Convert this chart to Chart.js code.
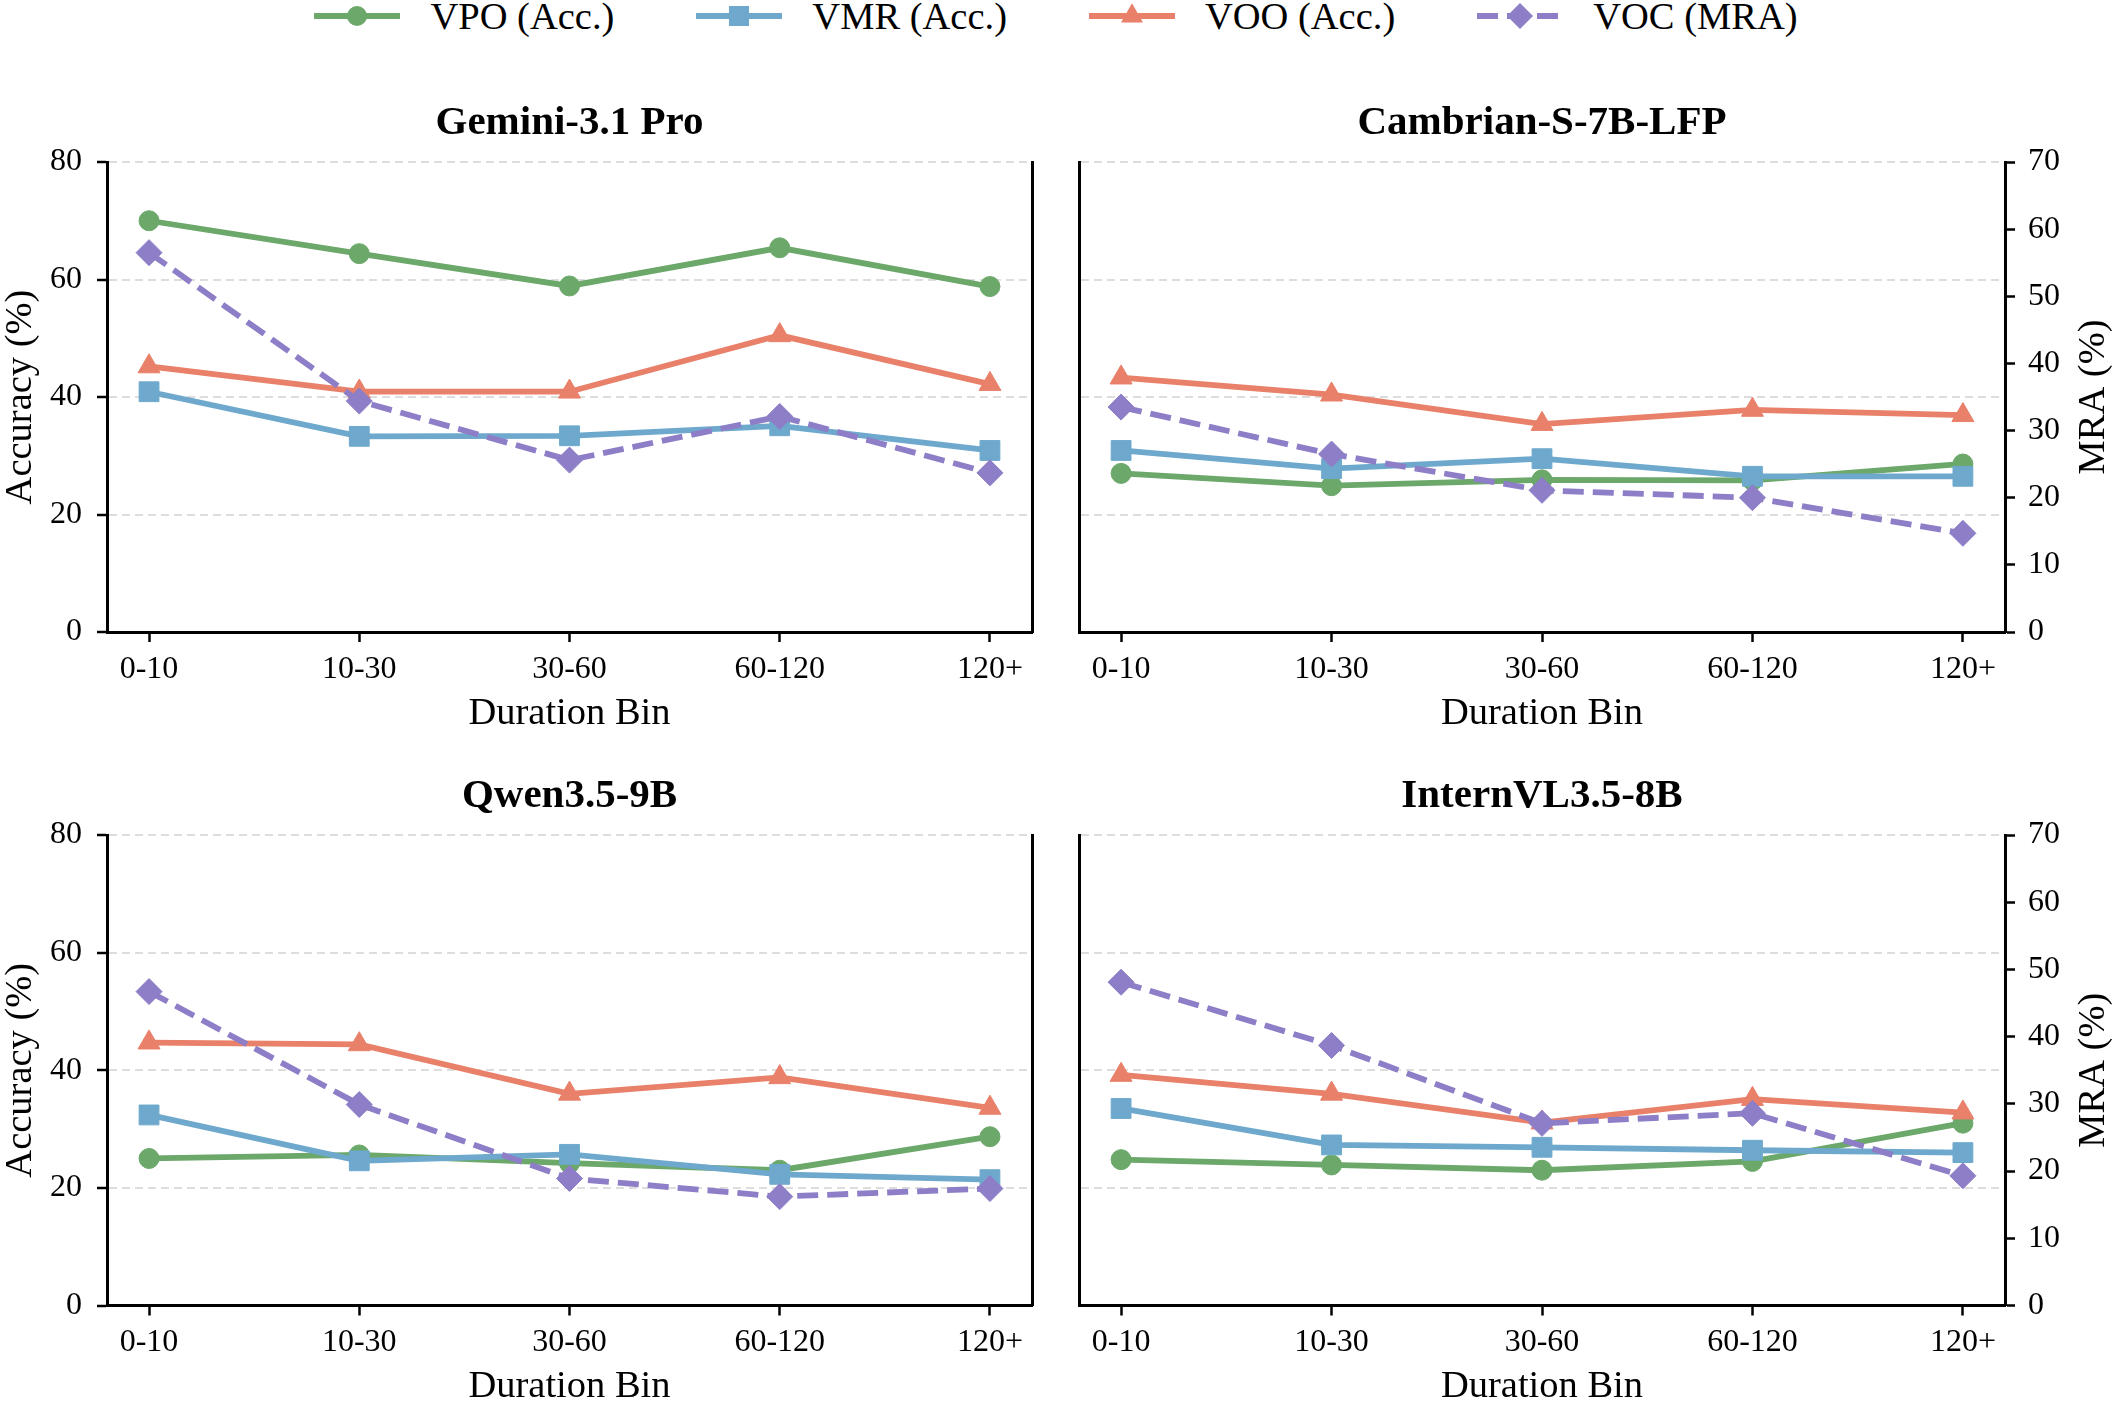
<!DOCTYPE html>
<html>
<head>
<meta charset="utf-8">
<script src="https://cdn.jsdelivr.net/npm/chart.js@4.4.1/dist/chart.umd.min.js"></script>
<style>
  html, body { margin: 0; padding: 0; background: #fff; overflow: hidden; }
  body { width: 2112px; height: 1402px; position: relative; font-family: 'Liberation Serif', 'Times New Roman', serif; }
  canvas { position: absolute; }
  #legend { position: absolute; left: 0; top: -1px; width: 2112px; height: 34px; display: flex;
            justify-content: center; align-items: center; gap: 82px; font-size: 38.5px; line-height: 1; color: #000; }
  .item { display: flex; align-items: center; gap: 30px; white-space: nowrap; }
</style>
</head>
<body>
<div id="legend"></div>
<canvas id="p0" width="1056" height="740" style="left:0;top:0"></canvas>
<canvas id="p1" width="1056" height="740" style="left:1056px;top:0"></canvas>
<canvas id="p2" width="1056" height="680" style="left:0;top:740px"></canvas>
<canvas id="p3" width="1056" height="680" style="left:1056px;top:740px"></canvas>
<script>
// data
var durationBins = ['0-10', '10-30', '30-60', '60-120', '120+'];
var modelNames = ['Gemini-3.1 Pro', 'Cambrian-S-7B-LFP', 'Qwen3.5-9B', 'InternVL3.5-8B'];

// accuracy (%), one row per model
var vpoAcc = [
  [70.0, 64.4, 58.9, 65.4, 58.8],
  [27.0, 24.9, 25.9, 25.8, 28.6],
  [25.0, 25.6, 24.2, 23.0, 28.7],
  [24.8, 23.9, 23.0, 24.5, 31.0]
];
var vmrAcc = [
  [40.9, 33.3, 33.4, 35.1, 30.9],
  [30.9, 27.8, 29.5, 26.5, 26.5],
  [32.4, 24.6, 25.7, 22.3, 21.4],
  [33.5, 27.3, 26.9, 26.4, 26.0]
];
var vooAcc = [
  [45.2, 40.9, 40.9, 50.5, 42.2],
  [43.3, 40.4, 35.4, 37.8, 36.9],
  [44.7, 44.4, 36.0, 38.8, 33.6],
  [39.2, 36.0, 31.1, 35.1, 32.8]
];
// MRA (%) on the right axis
var vocMra = [
  [56.5, 34.4, 25.6, 32.1, 23.7],
  [33.5, 26.5, 21.1, 20.0, 14.7],
  [46.7, 29.9, 18.9, 16.2, 17.4],
  [48.1, 38.7, 27.1, 28.6, 19.3]
];
var accTicks = [0, 20, 40, 60, 80];
var mraTicks = [0, 10, 20, 30, 40, 50, 60, 70];

var green = '#6BA86A', blue = '#6EA9CD', orange = '#E8806A', purple = '#8D7EC7';
var serif = "'Liberation Serif', 'Times New Roman', serif";

Chart.defaults.font.family = serif;
Chart.defaults.color = '#000';

// legend (line + marker, like the matplotlib one)
var legendItems = [
  ['VPO (Acc.)', green, '<circle cx="43" cy="17" r="10"/>', ''],
  ['VMR (Acc.)', blue, '<rect x="33" y="7" width="20" height="20"/>', ''],
  ['VOO (Acc.)', orange, '<polygon points="43,4.3 54,23.4 32,23.4"/>', ''],
  ['VOC (MRA)', purple, '<polygon points="43,4 56,17 43,30 30,17"/>', '21 9']
];
var lg = document.getElementById('legend');
legendItems.forEach(function (it) {
  var d = document.createElement('div');
  d.className = 'item';
  d.innerHTML = '<svg width="86" height="34"><line x1="0" y1="17" x2="86" y2="17" stroke="' + it[1] +
    '" stroke-width="5.8"' + (it[3] ? ' stroke-dasharray="' + it[3] + '"' : '') + '/>' +
    '<g fill="' + it[1] + '">' + it[2] + '</g></svg><span>' + it[0] + '</span>';
  lg.appendChild(d);
});

function pts(values) {
  return values.map(function (v, i) { return { x: i, y: v }; });
}

function series(label, values, color, style, radius, axis, dash, order) {
  return {
    label: label,
    data: pts(values),
    yAxisID: axis,
    borderColor: color,
    backgroundColor: color,
    pointBackgroundColor: color,
    pointBorderColor: color,
    pointBorderWidth: 1,
    pointStyle: style,
    pointRadius: radius,
    borderWidth: 5.8,
    borderDash: dash,
    tension: 0,
    fill: false,
    order: order
  };
}

function makePanel(k) {
  var isRight = k % 2 === 1;
  var isBottom = k >= 2;
  var canvasH = isBottom ? 680 : 740;
  var plotTop = isBottom ? 95 : 162;
  var plotBottom = isBottom ? 565.5 : 632;

  var mraTitle = {
    id: 'mraTitle',
    afterDraw: function (chart) {
      if (!isRight) return;
      var a = chart.chartArea, ctx = chart.ctx;
      ctx.save();
      ctx.translate(1038, (a.top + a.bottom) / 2);
      ctx.rotate(-Math.PI / 2);
      ctx.textAlign = 'center';
      ctx.textBaseline = 'middle';
      ctx.fillStyle = '#000';
      ctx.font = '38.5px ' + serif;
      ctx.fillText('MRA (%)', 0, 0);
      ctx.restore();
    }
  };

  new Chart(document.getElementById('p' + k), {
    type: 'line',
    data: {
      datasets: [
        series('VPO (Acc.)', vpoAcc[k], green, 'circle', 10, 'y', [], 4),
        series('VMR (Acc.)', vmrAcc[k], blue, 'rect', 14, 'y', [], 3),
        series('VOO (Acc.)', vooAcc[k], orange, 'triangle', 12.7, 'y', [], 2),
        series('VOC (MRA)', vocMra[k], purple, 'rectRot', 13, 'y2', [21, 9], 1)
      ]
    },
    options: {
      responsive: false,
      animation: false,
      devicePixelRatio: 1,
      events: [],
      layout: { padding: 0 },
      plugins: {
        legend: { display: false },
        tooltip: { enabled: false },
        title: {
          display: true,
          text: modelNames[k],
          fullSize: false,
          color: '#000',
          font: { family: serif, size: 41, weight: 'bold', lineHeight: 1.2 },
          padding: { top: plotTop - 63.6, bottom: 14.4 }
        }
      },
      scales: {
        x: {
          type: 'linear',
          min: -0.2,
          max: 4.2,
          afterBuildTicks: function (axis) {
            axis.ticks = durationBins.map(function (_, i) { return { value: i }; });
          },
          afterFit: function (axis) { axis.height = canvasH - plotBottom; },
          ticks: {
            autoSkip: false,
            maxRotation: 0,
            padding: 8,
            color: '#000',
            font: { size: 32 },
            callback: function (v) { return durationBins[v]; }
          },
          grid: { drawOnChartArea: false, drawTicks: true, tickLength: 10, tickColor: '#000', tickWidth: 2.5 },
          border: { color: '#000', width: 3 },
          title: {
            display: true,
            text: 'Duration Bin',
            color: '#000',
            font: { size: 38.5, lineHeight: 1.1 },
            padding: { top: 0, bottom: isBottom ? 11.5 : 5 }
          }
        },
        y: {
          position: 'left',
          min: 0,
          max: 80,
          afterBuildTicks: function (axis) {
            axis.ticks = accTicks.map(function (v) { return { value: v }; });
          },
          afterFit: function (axis) { axis.width = isRight ? 23 : 107; },
          ticks: { display: !isRight, padding: 15, color: '#000', font: { size: 32 } },
          grid: {
            color: function (c) { return c.tick && c.tick.value === 0 ? 'rgba(0,0,0,0)' : '#dddddd'; },
            lineWidth: 2,
            drawTicks: !isRight,
            tickLength: 10,
            tickColor: '#000',
            tickWidth: 2.5
          },
          border: { color: '#000', width: 3, dash: [8, 5] },
          title: {
            display: !isRight,
            text: 'Accuracy (%)',
            color: '#000',
            font: { size: 38.5, lineHeight: 1.1 },
            padding: { top: 0, bottom: 0 }
          }
        },
        y2: {
          position: 'right',
          min: 0,
          max: 70,
          afterBuildTicks: function (axis) {
            axis.ticks = mraTicks.map(function (v) { return { value: v }; });
          },
          afterFit: function (axis) { axis.width = isRight ? 107 : 24; },
          ticks: { display: isRight, padding: 13, color: '#000', font: { size: 32 } },
          grid: { drawOnChartArea: false, drawTicks: isRight, tickLength: 10, tickColor: '#000', tickWidth: 2.5 },
          border: { color: '#000', width: 3 }
        }
      }
    },
    plugins: [mraTitle]
  });
}

[0, 1, 2, 3].forEach(makePanel);
</script>
</body>
</html>
